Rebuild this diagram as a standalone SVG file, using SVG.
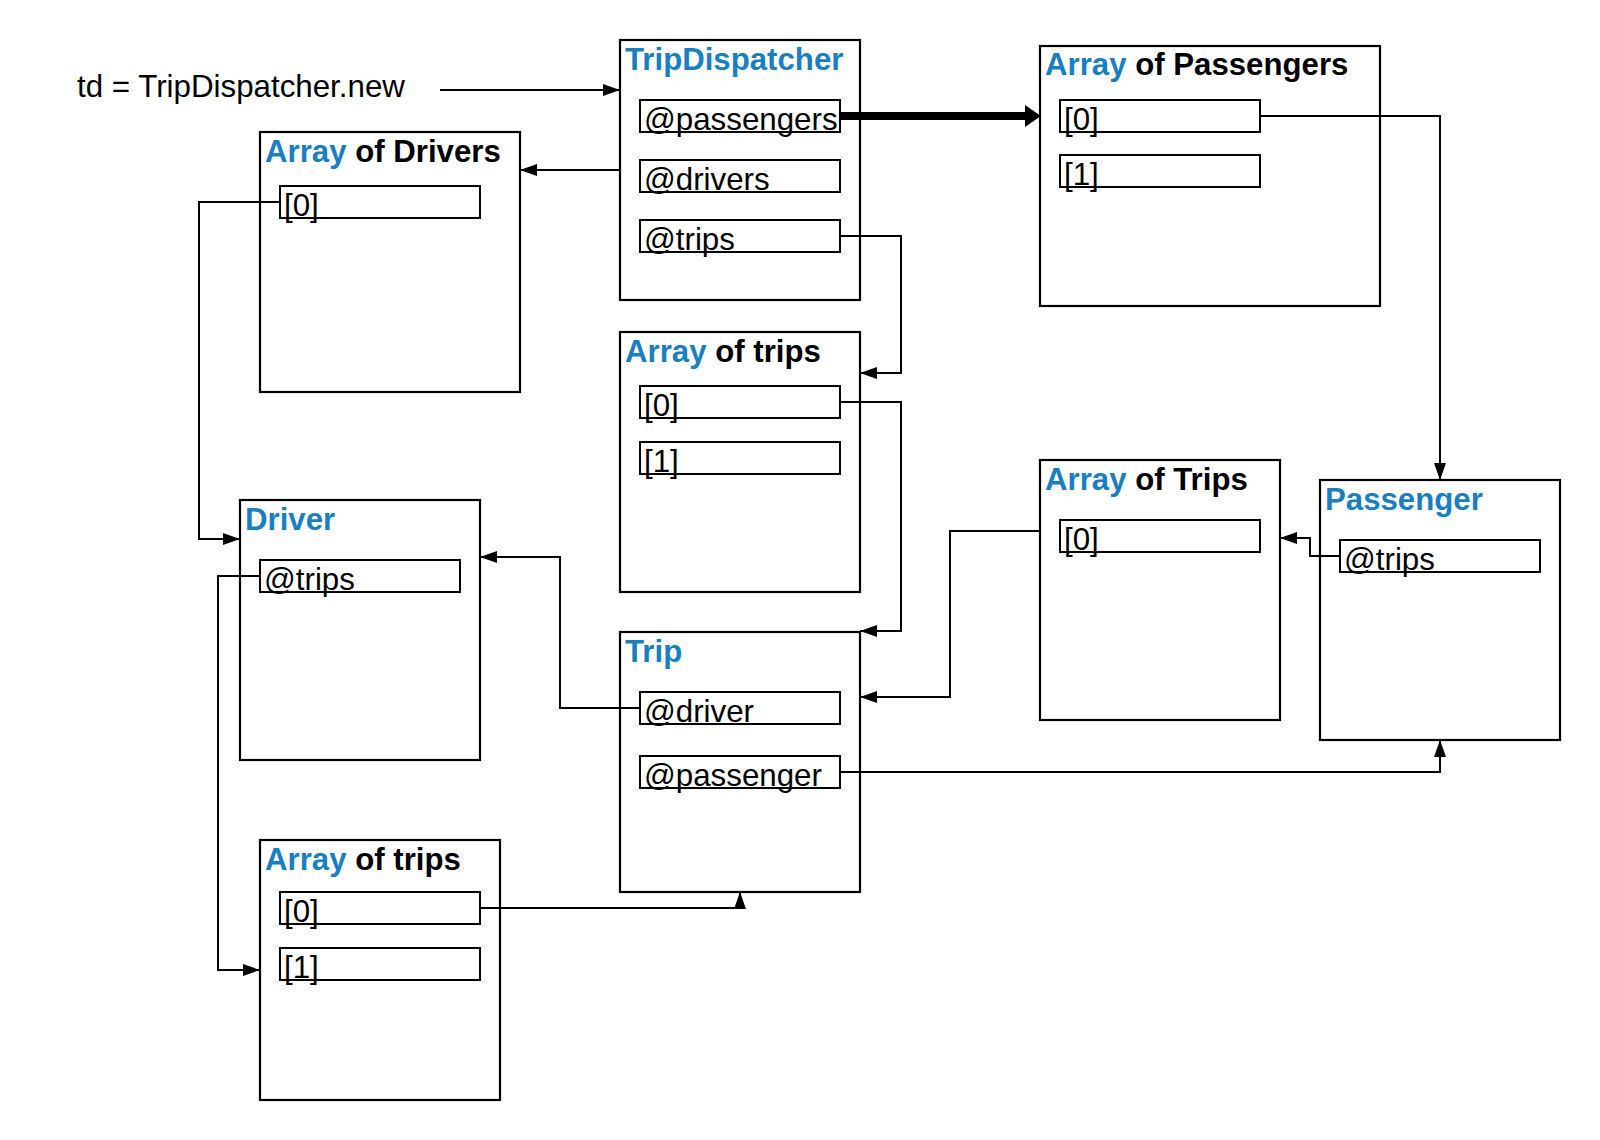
<svg xmlns="http://www.w3.org/2000/svg" width="1600" height="1140" viewBox="0 0 1600 1140">
<defs>
<marker id="arr" markerUnits="userSpaceOnUse" markerWidth="17" markerHeight="12" refX="17" refY="6" orient="auto"><path d="M0,0 L17,6 L0,12 z" fill="#000"/></marker>
<marker id="arrBig" markerUnits="userSpaceOnUse" markerWidth="16" markerHeight="22" refX="0" refY="11" orient="auto"><path d="M0,0 L16,11 L0,22 z" fill="#000"/></marker>
<style>
.box{fill:#fff;stroke:#000;stroke-width:2.2}
.field{fill:none;stroke:#000;stroke-width:2}
.title{font-family:"Liberation Sans",Arial,sans-serif;font-size:31.2px;font-weight:bold;fill:#000}
.blue{fill:#1a7fc1}
.txt{font-family:"Liberation Sans",Arial,sans-serif;font-size:31.3px;fill:#000}
.conn{fill:none;stroke:#000;stroke-width:2;marker-end:url(#arr)}
.thick{fill:none;stroke:#000;stroke-width:8;marker-end:url(#arrBig)}
</style>
</defs>
<rect width="1600" height="1140" fill="#fff"/>
<g id="start">
<text class="txt" x="77" y="97">td = TripDispatcher.new</text>
</g>
<g id="tripDispatcher">
<rect class="box" x="620" y="40" width="240" height="260"/>
<text class="title blue" x="625" y="70">TripDispatcher</text>
<rect class="field" x="640" y="100" width="200" height="32"/>
<text class="txt" x="644" y="129.5">@passengers</text>
<rect class="field" x="640" y="160" width="200" height="32"/>
<text class="txt" x="644" y="189.5">@drivers</text>
<rect class="field" x="640" y="220" width="200" height="32"/>
<text class="txt" x="644" y="249.5">@trips</text>
</g>
<g id="arrayOfPassengers">
<rect class="box" x="1040" y="46" width="340" height="260"/>
<text class="title" x="1045" y="75"><tspan class="blue">Array</tspan> of Passengers</text>
<rect class="field" x="1060" y="100" width="200" height="32"/>
<text class="txt" x="1064" y="129.5">[0]</text>
<rect class="field" x="1060" y="155" width="200" height="32"/>
<text class="txt" x="1064" y="184.5">[1]</text>
</g>
<g id="arrayOfDrivers">
<rect class="box" x="260" y="132" width="260" height="260"/>
<text class="title" x="265" y="162"><tspan class="blue">Array</tspan> of Drivers</text>
<rect class="field" x="280" y="186" width="200" height="32"/>
<text class="txt" x="284" y="215.5">[0]</text>
</g>
<g id="arrayOfTripsMid">
<rect class="box" x="620" y="332" width="240" height="260"/>
<text class="title" x="625" y="362"><tspan class="blue">Array</tspan> of trips</text>
<rect class="field" x="640" y="386" width="200" height="32"/>
<text class="txt" x="644" y="415.5">[0]</text>
<rect class="field" x="640" y="442" width="200" height="32"/>
<text class="txt" x="644" y="471.5">[1]</text>
</g>
<g id="arrayOfTripsPassenger">
<rect class="box" x="1040" y="460" width="240" height="260"/>
<text class="title" x="1045" y="490"><tspan class="blue">Array</tspan> of Trips</text>
<rect class="field" x="1060" y="520" width="200" height="32"/>
<text class="txt" x="1064" y="549.5">[0]</text>
</g>
<g id="passenger">
<rect class="box" x="1320" y="480" width="240" height="260"/>
<text class="title blue" x="1325" y="510">Passenger</text>
<rect class="field" x="1340" y="540" width="200" height="32"/>
<text class="txt" x="1344" y="569.5">@trips</text>
</g>
<g id="driver">
<rect class="box" x="240" y="500" width="240" height="260"/>
<text class="title blue" x="245" y="530">Driver</text>
<rect class="field" x="260" y="560" width="200" height="32"/>
<text class="txt" x="264" y="589.5">@trips</text>
</g>
<g id="trip">
<rect class="box" x="620" y="632" width="240" height="260"/>
<text class="title blue" x="625" y="662">Trip</text>
<rect class="field" x="640" y="692" width="200" height="32"/>
<text class="txt" x="644" y="721.5">@driver</text>
<rect class="field" x="640" y="756" width="200" height="32"/>
<text class="txt" x="644" y="785.5">@passenger</text>
</g>
<g id="arrayOfTripsDriver">
<rect class="box" x="260" y="840" width="240" height="260"/>
<text class="title" x="265" y="870"><tspan class="blue">Array</tspan> of trips</text>
<rect class="field" x="280" y="892" width="200" height="32"/>
<text class="txt" x="284" y="921.5">[0]</text>
<rect class="field" x="280" y="948" width="200" height="32"/>
<text class="txt" x="284" y="977.5">[1]</text>
</g>
<g id="connectors">
<path class="conn" d="M440,90 H620"/>
<path class="thick" d="M840,116 H1025"/>
<path class="conn" d="M620,170 H520"/>
<path class="conn" d="M840,236 H901 V373 H860"/>
<path class="conn" d="M840,402 H901 V631 H860"/>
<path class="conn" d="M1260,116 H1440 V480"/>
<path class="conn" d="M280,202 H199 V539 H240"/>
<path class="conn" d="M260,576 H218 V970 H260"/>
<path class="conn" d="M640,708 H560 V557 H480"/>
<path class="conn" d="M1040,531 H950 V697 H860"/>
<path class="conn" d="M1340,556 H1310 V538 H1280"/>
<path class="conn" d="M840,772 H1440 V740"/>
<path class="conn" d="M480,908 H740 V892"/>
</g>
</svg>
